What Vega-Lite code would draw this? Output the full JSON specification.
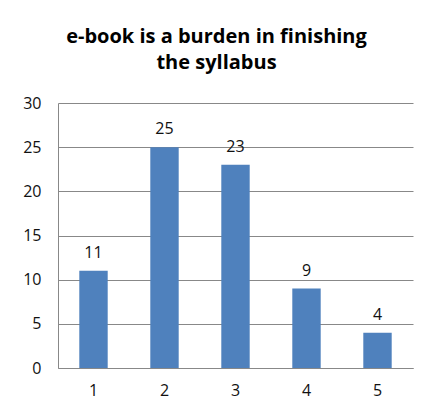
{
  "$schema": "https://vega.github.io/schema/vega-lite/v6.json",
  "autosize": "none",
  "width": 355,
  "height": 265,
  "padding": {"left": 58, "top": 103, "right": 17, "bottom": 42},
  "background": "white",
  "title": {
    "text": ["e-book is a burden in finishing", "the syllabus"],
    "font": "Open Sans",
    "fontSize": 20,
    "fontWeight": "bold",
    "color": "#000000",
    "anchor": "middle",
    "dx": -19,
    "offset": 22,
    "lineHeight": 26
  },
  "data": {
    "values": [
      {"cat": "1", "value": 11},
      {"cat": "2", "value": 25},
      {"cat": "3", "value": 23},
      {"cat": "4", "value": 9},
      {"cat": "5", "value": 4}
    ]
  },
  "encoding": {
    "x": {
      "field": "cat",
      "type": "nominal",
      "scale": {"paddingInner": 0.6, "paddingOuter": 0.3},
      "axis": {
        "title": null,
        "labelAngle": 0,
        "labelFont": "Open Sans",
        "labelFontSize": 16,
        "labelColor": "#111111",
        "labelPadding": 14,
        "ticks": false,
        "domainColor": "#888888",
        "domainWidth": 1
      }
    },
    "y": {
      "field": "value",
      "type": "quantitative",
      "scale": {"domain": [0, 30]},
      "axis": {
        "title": null,
        "values": [0, 5, 10, 15, 20, 25, 30],
        "labelFont": "Open Sans",
        "labelFontSize": 16,
        "labelColor": "#111111",
        "labelPadding": 17,
        "ticks": false,
        "domainColor": "#888888",
        "gridColor": "#888888",
        "gridWidth": 1
      }
    }
  },
  "layer": [
    {"mark": {"type": "bar", "color": "#4F81BD"}},
    {
      "mark": {"type": "text", "baseline": "alphabetic", "dy": -13, "font": "Open Sans", "fontSize": 16, "color": "#111111"},
      "encoding": {"text": {"field": "value", "type": "quantitative"}}
    }
  ],
  "config": {"view": {"stroke": null}}
}
